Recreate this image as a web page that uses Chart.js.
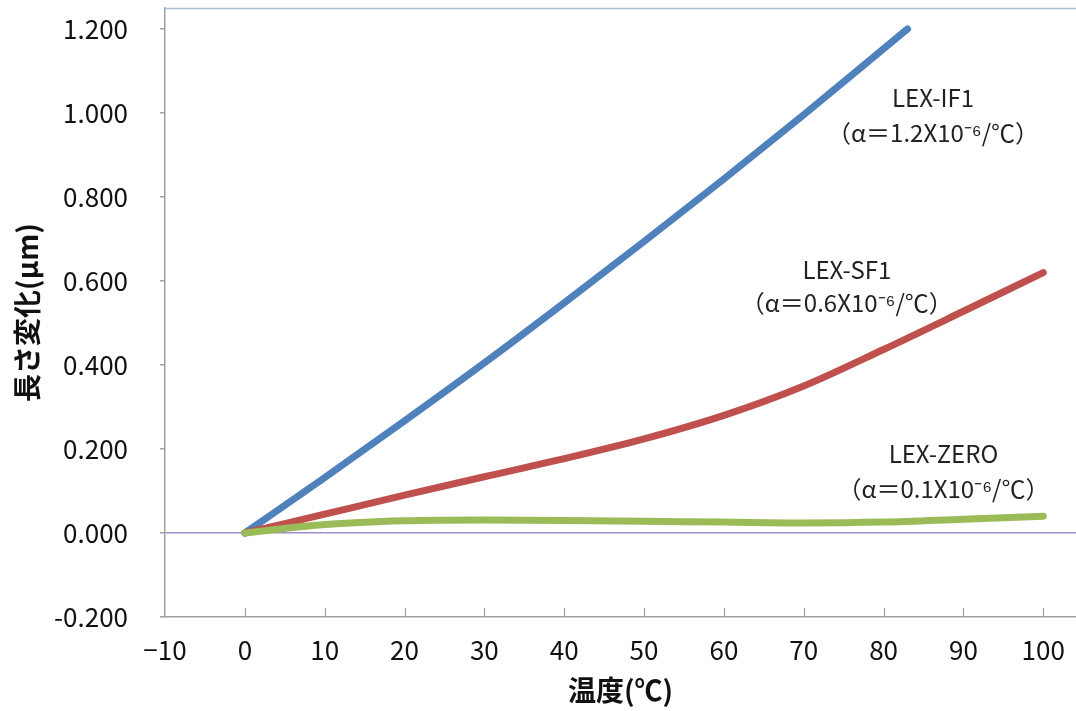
<!DOCTYPE html>
<html>
<head>
<meta charset="utf-8">
<script src="https://cdn.jsdelivr.net/npm/chart.js@4"></script>
<style>
  body { margin: 0; background: #fff; }
  #wrap { width: 1076px; height: 711px; }
</style>
</head>
<body>
<div id="wrap"><canvas id="lexChart" width="1076" height="711"></canvas></div>
<script>
// temperature (°C) and length change (µm)
const tempIF1 = [0, 10, 20, 30, 40, 50, 60, 70, 80, 83];
const lenIF1  = [0, 0.132, 0.267, 0.405, 0.548, 0.694, 0.843, 0.996, 1.153, 1.20];

const tempSF1 = [0, 10, 20, 30, 40, 50, 60, 70, 80, 90, 100];
const lenSF1  = [0, 0.045, 0.09, 0.134, 0.177, 0.224, 0.28, 0.35, 0.437, 0.528, 0.62];

const tempZero = [0, 10, 20, 30, 40, 50, 60, 70, 80, 90, 100];
const lenZero  = [0, 0.02, 0.029, 0.031, 0.03, 0.028, 0.026, 0.024, 0.026, 0.033, 0.04];

const xTicks = [-10, 0, 10, 20, 30, 40, 50, 60, 70, 80, 90, 100];
const yTicks = [-0.2, 0, 0.2, 0.4, 0.6, 0.8, 1.0, 1.2];

// text next to each curve, placed in data units
const curveLabels = [
  { lines: ['LEX-IF1', '（α＝1.2X10⁻⁶/℃）'], x: 86.2, y: 1.036, y2: 0.952 },
  { lines: ['LEX-SF1', '（α＝0.6X10⁻⁶/℃）'], x: 75.4, y: 0.626, y2: 0.548 },
  { lines: ['LEX-ZERO', '（α＝0.1X10⁻⁶/℃）'], x: 87.5, y: 0.188, y2: 0.105 }
];

const toPoints = (xs, ys) => xs.map((x, i) => ({ x: x, y: ys[i] }));

Chart.defaults.font.family = '"Noto Sans CJK JP", "Noto Sans", sans-serif';
Chart.defaults.color = '#111';

// inner tick marks on the x axis, top border, and the curve labels
const decorations = {
  id: 'decorations',
  afterDraw(chart) {
    const c = chart.ctx;
    const area = chart.chartArea;
    const xs = chart.scales.x;
    const ys = chart.scales.y;
    c.save();
    c.strokeStyle = '#a9bfd6';
    c.lineWidth = 1.5;
    c.beginPath();
    c.moveTo(area.left, area.top + 0.5);
    c.lineTo(area.right, area.top + 0.5);
    c.stroke();

    c.strokeStyle = '#a0a0a0';
    c.lineWidth = 1.2;
    xTicks.forEach(v => {
      if (v === xs.min) return;
      const px = Math.round(xs.getPixelForValue(v)) + 0.5;
      c.beginPath();
      c.moveTo(px, area.bottom);
      c.lineTo(px, area.bottom - 9);
      c.stroke();
    });

    c.fillStyle = '#222';
    c.textAlign = 'center';
    c.textBaseline = 'middle';
    c.font = '24px "Noto Sans CJK JP", sans-serif';
    curveLabels.forEach(l => {
      const px = xs.getPixelForValue(l.x);
      c.fillText(l.lines[0], px, ys.getPixelForValue(l.y));
      c.fillText(l.lines[1], px, ys.getPixelForValue(l.y2));
    });
    c.restore();
  }
};

const ctx = document.getElementById('lexChart').getContext('2d');
new Chart(ctx, {
  type: 'line',
  data: {
    datasets: [
      { label: 'LEX-ZERO', data: toPoints(tempZero, lenZero), borderColor: '#9bbb59' },
      { label: 'LEX-SF1', data: toPoints(tempSF1, lenSF1), borderColor: '#c0504d' },
      { label: 'LEX-IF1', data: toPoints(tempIF1, lenIF1), borderColor: '#4f81bd' }
    ]
  },
  options: {
    responsive: false,
    animation: false,
    layout: { padding: { top: 8, right: 0, left: 0, bottom: 0 } },
    elements: {
      line: { borderWidth: 7, borderCapStyle: 'round', borderJoinStyle: 'round', cubicInterpolationMode: 'monotone', fill: false },
      point: { radius: 0 }
    },
    plugins: {
      legend: { display: false },
      tooltip: { enabled: false }
    },
    scales: {
      x: {
        type: 'linear',
        min: -10,
        max: 104.1,
        afterFit: s => { s.height = 94; s.paddingLeft = 0; s.paddingRight = 0; },
        afterBuildTicks: s => { s.ticks = xTicks.map(v => ({ value: v })); },
        ticks: {
          padding: 18,
          font: { size: 26 },
          color: '#111',
          callback: v => v < 0 ? '−' + Math.abs(v) : String(v)
        },
        grid: { display: true, drawOnChartArea: false, drawTicks: false },
        border: { display: true, color: '#a0a0a0', width: 1.5 },
        title: {
          display: true,
          text: '温度(℃)',
          font: { size: 28, weight: 'bold' },
          color: '#111',
          padding: { top: 0, bottom: 4 }
        }
      },
      y: {
        type: 'linear',
        min: -0.2,
        max: 1.25,
        afterFit: s => { s.width = 165; s.paddingTop = 0; s.paddingBottom = 0; },
        afterBuildTicks: s => { s.ticks = yTicks.map(v => ({ value: v })); },
        ticks: {
          padding: 32,
          font: { size: 26 },
          color: '#111',
          callback: v => v.toFixed(3)
        },
        grid: {
          drawTicks: true,
          tickLength: 5,
          tickColor: '#a0a0a0',
          color: c => (c.tick && c.tick.value === 0) ? '#9d8fc9' : 'rgba(0,0,0,0)',
          lineWidth: 1.5
        },
        border: { display: true, color: '#a0a0a0', width: 1.5 },
        title: {
          display: true,
          text: '長さ変化(μm)',
          font: { size: 28, weight: 'bold' },
          color: '#111',
          padding: { top: 11, bottom: 0 }
        }
      }
    }
  },
  plugins: [decorations]
});
</script>
</body>
</html>
